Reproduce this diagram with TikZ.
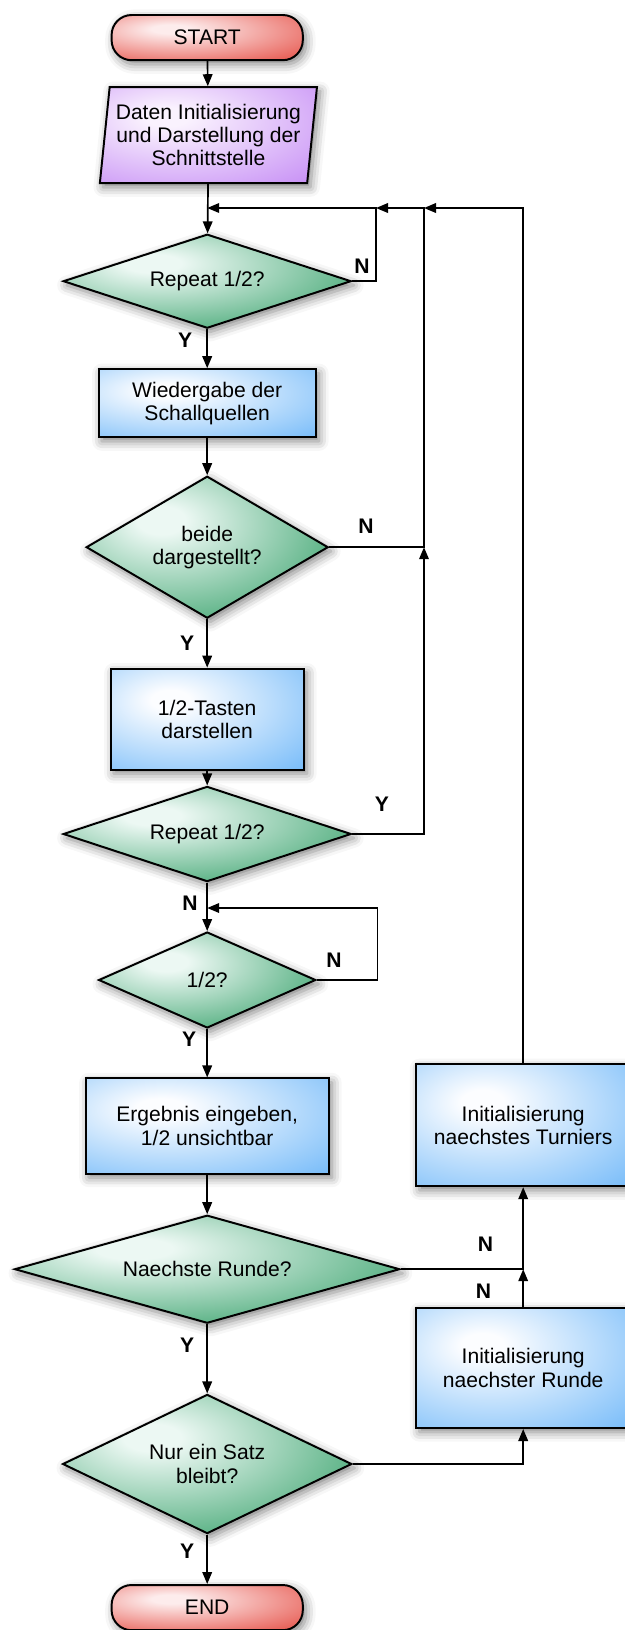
\documentclass[tikz,border=0pt]{standalone}
\usepackage{fontspec}
\setmainfont{Liberation Sans}
\usetikzlibrary{shapes.geometric, arrows.meta, positioning, calc, shadows.blur}

\definecolor{termred}{RGB}{228, 70, 60}
\definecolor{termpink}{RGB}{253, 236, 236}
\definecolor{iopurple}{RGB}{192, 130, 244}
\definecolor{iolight}{RGB}{250, 242, 254}
\definecolor{procblue}{RGB}{104, 180, 248}
\definecolor{proclight}{RGB}{252, 253, 255}
\definecolor{decgreen}{RGB}{36, 152, 92}
\definecolor{declight}{RGB}{236, 248, 243}

\pgfdeclareradialshading{redglow}{\pgfpoint{-10bp}{10bp}}{color(0bp)=(termpink); color(5bp)=(termpink); color(46bp)=(termred); color(100bp)=(termred)}
\pgfdeclareradialshading{purpleglow}{\pgfpoint{-10bp}{10bp}}{color(0bp)=(iolight); color(5bp)=(iolight); color(48bp)=(iopurple); color(100bp)=(iopurple)}
\pgfdeclareradialshading{blueglow}{\pgfpoint{-10bp}{10bp}}{color(0bp)=(proclight); color(5bp)=(proclight); color(48bp)=(procblue); color(100bp)=(procblue)}
\pgfdeclareradialshading{greenglow}{\pgfpoint{-10bp}{10bp}}{color(0bp)=(declight); color(5bp)=(declight); color(44bp)=(decgreen); color(100bp)=(decgreen)}

\tikzset{
  base/.style={draw=black, line width=1.4pt, align=center, inner sep=2pt, shade,
    font=\fontsize{15}{16.5}\selectfont,
    blur shadow={shadow xshift=0.08cm, shadow yshift=-0.1cm, shadow blur radius=0.24cm, shadow opacity=50}},
  terminal/.style={base, rectangle, rounded corners=0.5cm, shading=redglow, minimum width=4.78cm, minimum height=1.13cm},
  io/.style={base, trapezium, trapezium left angle=82, trapezium right angle=98, trapezium stretches=true, shading=purpleglow},
  process/.style={base, rectangle, shading=blueglow},
  decision/.style={base, diamond, inner sep=0pt, shading=greenglow},
  flow/.style={line width=1.2pt, -{Triangle[length=0.3cm, width=0.24cm]}},
  lbl/.style={font=\fontsize{15}{16.5}\selectfont\bfseries, inner sep=0pt}
}

\begin{document}
\begin{tikzpicture}
  \useasboundingbox (0,0) rectangle (15.625,-40.75);

  % main column
  \node[terminal] (start) at (5.18, -0.94) {START};
  \node[io, minimum width=5.43cm, minimum height=2.4cm] (init) at (5.21, -3.38) {Daten Initialisierung\\und Darstellung der\\Schnittstelle};
  \node[decision, minimum width=7.2cm, minimum height=2.35cm, aspect=3.06] (rep1) at (5.18, -7.03) {Repeat 1/2?};
  \node[process, minimum width=5.43cm, minimum height=1.7cm] (play) at (5.18, -10.08) {Wiedergabe der\\Schallquellen};
  \node[decision, minimum width=6.05cm, minimum height=3.55cm, aspect=1.7] (both) at (5.18, -13.68) {beide\\dargestellt?};
  \node[process, minimum width=4.83cm, minimum height=2.53cm] (keys) at (5.18, -17.98) {1/2-Tasten\\darstellen};
  \node[decision, minimum width=7.2cm, minimum height=2.38cm, aspect=3.03] (rep2) at (5.18, -20.85) {Repeat 1/2?};
  \node[decision, minimum width=5.43cm, minimum height=2.4cm, aspect=2.26] (pick) at (5.18, -24.5) {1/2?};
  \node[process, minimum width=6.08cm, minimum height=2.38cm] (result) at (5.18, -28.15) {Ergebnis eingeben,\\1/2 unsichtbar};
  \node[decision, minimum width=9.63cm, minimum height=2.7cm, aspect=3.56] (next) at (5.18, -31.73) {Naechste Runde?};
  \node[decision, minimum width=7.23cm, minimum height=3.48cm, aspect=2.08] (last) at (5.18, -36.6) {Nur ein Satz\\bleibt?};
  \node[terminal] (stop) at (5.18, -40.19) {END};

  % right column
  \node[process, minimum width=5.35cm, minimum height=3.05cm] (tour) at (13.08, -28.13) {Initialisierung\\naechstes Turniers};
  \node[process, minimum width=5.35cm, minimum height=3.0cm] (round) at (13.08, -34.2) {Initialisierung\\naechster Runde};

  % junctions
  \coordinate (top) at (5.18, -5.2);
  \coordinate (j1) at (9.4, -5.2);
  \coordinate (j2) at (10.6, -5.2);
  \coordinate (k) at (5.18, -22.7);
  \coordinate (k1) at (9.44, -22.7);

  % main flow
  \draw[flow] (start) -- (init);
  \draw[flow] (init) -- (rep1);
  \draw[flow] (rep1) -- (play);
  \draw[flow] (play) -- (both);
  \draw[flow] (both) -- (keys);
  \draw[flow] (keys) -- (rep2);
  \draw[flow] (rep2) -- (pick);
  \draw[flow] (pick) -- (result);
  \draw[flow] (result) -- (next);
  \draw[flow] (next) -- (last);
  \draw[flow] (last) -- (stop);

  % loops back
  \draw[flow] (rep1.east) -| (j1) -- (top);
  \draw[flow] (both.east) -| (j2) -- (j1);
  \draw[flow] (rep2.east) -| (both.east -| j2);
  \draw[flow] (tour.north) |- (j2);
  \draw[flow] (pick.east) -| (k1) -- (k);
  \draw[flow] (next.east) -| (tour.south);
  \draw[flow] (round.north) -- (round.north |- next.east);
  \draw[flow] (last.east) -| (round.south);

  % labels
  \node[lbl] (n1) at (9.05, -6.65) {N};
  \node[lbl] (y1) at (4.63, -8.5) {Y};
  \node[lbl] (n2) at (9.15, -13.15) {N};
  \node[lbl] (y2) at (4.68, -16.07) {Y};
  \node[lbl] (y3) at (9.55, -20.1) {Y};
  \node[lbl] (n3) at (4.75, -22.57) {N};
  \node[lbl] (n4) at (8.35, -24.0) {N};
  \node[lbl] (y4) at (4.73, -25.98) {Y};
  \node[lbl] (n5) at (12.14, -31.1) {N};
  \node[lbl] (n6) at (12.09, -32.27) {N};
  \node[lbl] (y5) at (4.68, -33.62) {Y};
  \node[lbl] (y6) at (4.68, -38.77) {Y};
\end{tikzpicture}
\end{document}
